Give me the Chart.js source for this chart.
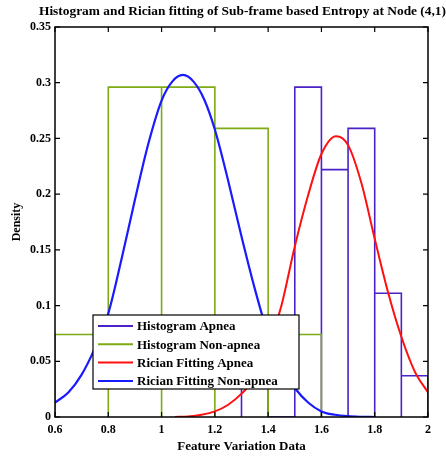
<!DOCTYPE html>
<html>
<head>
<meta charset="utf-8">
<script src="https://cdn.jsdelivr.net/npm/chart.js@4.4.0/dist/chart.umd.min.js"></script>
<style>
  html, body { margin: 0; padding: 0; background: #ffffff; }
  #wrap { width: 446px; height: 460px; position: relative; }
</style>
</head>
<body>
<div id="wrap"><canvas id="chart" width="446" height="460"></canvas></div>
<script>
// Histogram bins (edges) and densities
const binEdgesNonApnea = [0.6, 0.8, 1.0, 1.2, 1.4, 1.6];
const densityNonApnea  = [0.074, 0.296, 0.296, 0.259, 0.074];
const binEdgesApnea    = [1.3, 1.4, 1.5, 1.6, 1.7, 1.8, 1.9, 2.0];
const densityApnea     = [0.074, 0, 0.296, 0.222, 0.259, 0.111, 0.037];

// Rician fitted density curves
const fitXNonApnea = [0.60, 0.65, 0.70, 0.75, 0.80, 0.85, 0.90, 0.95, 1.00, 1.04, 1.08, 1.12, 1.16, 1.20, 1.25, 1.30, 1.35, 1.40, 1.45, 1.50, 1.55, 1.60, 1.65, 1.70, 1.75, 1.80];
const fitYNonApnea = [0.013, 0.022, 0.038, 0.062, 0.093, 0.142, 0.195, 0.245, 0.284, 0.301, 0.307, 0.301, 0.285, 0.258, 0.212, 0.162, 0.115, 0.074, 0.045, 0.026, 0.013, 0.005, 0.002, 0.0007, 0.0002, 0];
const fitXApnea = [1.05, 1.10, 1.15, 1.20, 1.25, 1.30, 1.35, 1.40, 1.45, 1.50, 1.55, 1.60, 1.655, 1.70, 1.75, 1.80, 1.85, 1.90, 1.95, 2.00];
const fitYApnea = [0, 0.0005, 0.002, 0.005, 0.011, 0.021, 0.035, 0.062, 0.100, 0.153, 0.199, 0.236, 0.252, 0.244, 0.210, 0.160, 0.112, 0.072, 0.041, 0.022];

// Axis ticks
const xTicks = [0.6, 0.8, 1.0, 1.2, 1.4, 1.6, 1.8, 2.0];
const yTicks = [0, 0.05, 0.1, 0.15, 0.2, 0.25, 0.3, 0.35];

const chartTitle = 'Histogram and Rician fitting of Sub-frame based Entropy at Node (4,1)';
const xLabel = 'Feature Variation Data';
const yLabel = 'Density';
const legendLabels = ['Histogram Apnea', 'Histogram Non-apnea', 'Rician Fitting Apnea', 'Rician Fitting Non-apnea'];

const COLOR_APNEA_HIST = '#4a22c8';
const COLOR_NONAPNEA_HIST = '#7eab14';
const COLOR_FIT_APNEA = '#ff1010';
const COLOR_FIT_NONAPNEA = '#1a1aff';
const FONT = '"Liberation Serif", "Times New Roman", serif';

// Trace the outline of histogram bars as one path
function histOutline(edges, heights) {
  const pts = [{ x: edges[0], y: 0 }];
  heights.forEach((h, i) => {
    pts.push({ x: edges[i], y: h }, { x: edges[i + 1], y: h }, { x: edges[i + 1], y: 0 });
  });
  return pts;
}
function curve(xs, ys) {
  return xs.map((x, i) => ({ x: x, y: ys[i] }));
}

const fmt = v => String(Number(v.toFixed(2)));

// Legend drawn inside the plot area
const insideLegend = {
  id: 'insideLegend',
  afterDatasetsDraw(chart) {
    const ctx = chart.ctx;
    const a = chart.chartArea;
    const bx = a.left + 38, by = a.top + 288, bw = 206, bh = 74;
    ctx.save();
    ctx.fillStyle = '#ffffff';
    ctx.fillRect(bx, by, bw, bh);
    ctx.strokeStyle = '#000000';
    ctx.lineWidth = 1.2;
    ctx.strokeRect(bx, by, bw, bh);
    ctx.font = 'bold 13px ' + FONT;
    ctx.textBaseline = 'middle';
    ctx.textAlign = 'left';
    chart.data.datasets.forEach((ds, r) => {
      const y = by + 11 + r * 18.3;
      ctx.strokeStyle = ds.borderColor;
      ctx.lineWidth = 2;
      ctx.beginPath();
      ctx.moveTo(bx + 5, y);
      ctx.lineTo(bx + 40, y);
      ctx.stroke();
      ctx.fillStyle = '#000000';
      ctx.fillText(ds.label, bx + 44, y + 1);
    });
    ctx.restore();
  }
};

// Axes box with inward ticks, and the chart title
const frameAndTitle = {
  id: 'frameAndTitle',
  afterDraw(chart) {
    const ctx = chart.ctx;
    const a = chart.chartArea;
    const xs = chart.scales.x, ys = chart.scales.y;
    ctx.save();
    ctx.strokeStyle = '#000000';
    ctx.lineWidth = 1.5;
    ctx.strokeRect(a.left, a.top, a.right - a.left, a.bottom - a.top);
    ctx.lineWidth = 1.2;
    ctx.beginPath();
    xTicks.forEach(v => {
      const px = xs.getPixelForValue(v);
      ctx.moveTo(px, a.bottom); ctx.lineTo(px, a.bottom - 5);
      ctx.moveTo(px, a.top); ctx.lineTo(px, a.top + 5);
    });
    yTicks.forEach(v => {
      const py = ys.getPixelForValue(v);
      ctx.moveTo(a.left, py); ctx.lineTo(a.left + 5, py);
      ctx.moveTo(a.right, py); ctx.lineTo(a.right - 5, py);
    });
    ctx.stroke();
    ctx.fillStyle = '#000000';
    ctx.font = 'bold 13.4px ' + FONT;
    ctx.textAlign = 'center';
    ctx.textBaseline = 'middle';
    ctx.fillText(chartTitle, (a.left + a.right) / 2 + 1, 12);
    ctx.restore();
  }
};

new Chart(document.getElementById('chart'), {
  type: 'line',
  data: {
    datasets: [
      {
        label: legendLabels[0],
        data: histOutline(binEdgesApnea, densityApnea),
        borderColor: COLOR_APNEA_HIST, borderWidth: 1.6,
        pointRadius: 0, tension: 0, fill: false, borderJoinStyle: 'miter', order: 3
      },
      {
        label: legendLabels[1],
        data: histOutline(binEdgesNonApnea, densityNonApnea),
        borderColor: COLOR_NONAPNEA_HIST, borderWidth: 1.6,
        pointRadius: 0, tension: 0, fill: false, borderJoinStyle: 'miter', order: 2
      },
      {
        label: legendLabels[2],
        data: curve(fitXApnea, fitYApnea),
        borderColor: COLOR_FIT_APNEA, borderWidth: 2,
        pointRadius: 0, cubicInterpolationMode: 'monotone', fill: false, order: 1
      },
      {
        label: legendLabels[3],
        data: curve(fitXNonApnea, fitYNonApnea),
        borderColor: COLOR_FIT_NONAPNEA, borderWidth: 2.2,
        pointRadius: 0, cubicInterpolationMode: 'monotone', fill: false, order: 0
      }
    ]
  },
  options: {
    responsive: false,
    animation: false,
    devicePixelRatio: 1,
    layout: { padding: { top: 27, right: 18, left: 0, bottom: 0 } },
    plugins: {
      legend: { display: false },
      title: { display: false },
      tooltip: { enabled: false }
    },
    scales: {
      x: {
        type: 'linear', min: 0.6, max: 2.0,
        grid: { display: false, drawTicks: false },
        border: { display: false },
        afterBuildTicks: s => { s.ticks = xTicks.map(v => ({ value: v })); },
        afterFit: s => { s.height = 43; },
        ticks: {
          autoSkip: false, maxRotation: 0, padding: 6, color: '#000',
          font: { family: FONT, size: 12, weight: 'bold' },
          callback: v => fmt(v)
        },
        title: {
          display: true, text: xLabel, color: '#000',
          font: { family: FONT, size: 13, weight: 'bold' },
          padding: { top: 0, bottom: 6 }
        }
      },
      y: {
        type: 'linear', min: 0, max: 0.35,
        grid: { display: false, drawTicks: false },
        border: { display: false },
        afterBuildTicks: s => { s.ticks = yTicks.map(v => ({ value: v })); },
        afterFit: s => { s.width = 55; },
        ticks: {
          autoSkip: false, padding: 4, color: '#000',
          font: { family: FONT, size: 12, weight: 'bold' },
          callback: v => fmt(v)
        },
        title: {
          display: true, text: yLabel, color: '#000',
          font: { family: FONT, size: 12, weight: 'bold' },
          padding: { top: 10, bottom: 10 }
        }
      }
    }
  },
  plugins: [insideLegend, frameAndTitle]
});
</script>
</body>
</html>
